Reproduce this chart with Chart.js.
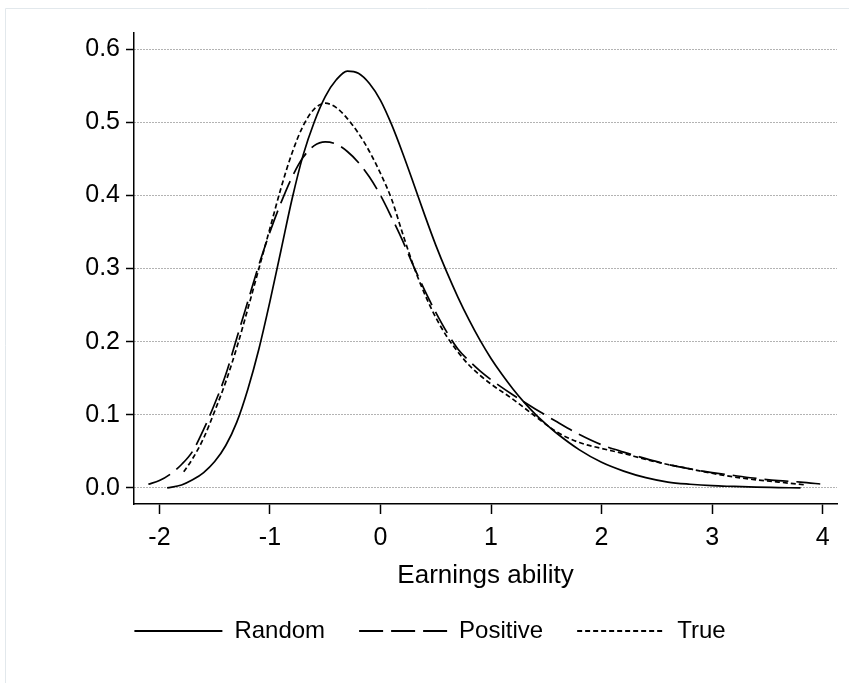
<!DOCTYPE html>
<html><head><meta charset="utf-8">
<script src="https://cdn.jsdelivr.net/npm/chart.js@4/dist/chart.umd.min.js"></script>
<style>html,body{margin:0;padding:0;background:#fff}#wrap{position:relative;width:849px;height:683px}</style>
</head><body><div id="wrap"><canvas id="c" width="849" height="683"></canvas></div>
<script>
const xTicks=[-2,-1,0,1,2,3,4];
const yTicks=[0,0.1,0.2,0.3,0.4,0.5,0.6];
const xTitle='Earnings ability';
const seriesNames=['Random','Positive','True'];

const randomX=[-1.93,-1.8,-1.7,-1.6,-1.5,-1.4,-1.3,-1.2,-1.1,-1.0,-0.9,-0.8,-0.7,-0.6,-0.5,-0.4,-0.3,-0.2,-0.1,0,0.1,0.2,0.3,0.4,0.5,0.6,0.7,0.8,0.9,1.0,1.1,1.2,1.3,1.4,1.5,1.6,1.8,2.0,2.2,2.4,2.6,2.8,3.0,3.2,3.4,3.6,3.8];
const randomY=[0.0,0.004,0.011,0.021,0.036,0.058,0.09,0.135,0.19,0.255,0.325,0.395,0.455,0.5,0.535,0.558,0.57,0.567,0.553,0.53,0.497,0.458,0.416,0.373,0.332,0.295,0.261,0.23,0.202,0.177,0.155,0.135,0.117,0.101,0.087,0.074,0.052,0.035,0.023,0.014,0.008,0.005,0.003,0.002,0.001,0.0005,0.0];

const positiveX=[-2.1,-2.0,-1.9,-1.8,-1.7,-1.6,-1.5,-1.4,-1.3,-1.2,-1.1,-1.0,-0.9,-0.8,-0.7,-0.6,-0.5,-0.4,-0.3,-0.2,-0.1,0,0.1,0.2,0.3,0.4,0.5,0.6,0.7,0.8,0.9,1.0,1.2,1.4,1.6,1.8,2.0,2.2,2.4,2.6,2.8,3.0,3.2,3.4,3.6,3.8,4.0];
const positiveY=[0.005,0.01,0.019,0.032,0.05,0.08,0.115,0.155,0.205,0.255,0.305,0.35,0.39,0.425,0.452,0.468,0.473,0.47,0.46,0.445,0.425,0.4,0.37,0.338,0.303,0.27,0.24,0.213,0.19,0.174,0.16,0.148,0.127,0.108,0.09,0.073,0.059,0.049,0.04,0.032,0.026,0.021,0.017,0.013,0.01,0.008,0.005];

const trueX=[-1.78,-1.7,-1.6,-1.5,-1.4,-1.3,-1.2,-1.1,-1.0,-0.9,-0.8,-0.7,-0.6,-0.5,-0.4,-0.3,-0.2,-0.1,0,0.1,0.2,0.3,0.4,0.5,0.6,0.7,0.8,0.9,1.0,1.2,1.4,1.6,1.8,2.0,2.2,2.4,2.6,2.8,3.0,3.2,3.4,3.6,3.85];
const trueY=[0.022,0.04,0.068,0.105,0.145,0.192,0.245,0.3,0.355,0.41,0.458,0.495,0.518,0.526,0.52,0.505,0.485,0.46,0.43,0.395,0.348,0.303,0.265,0.233,0.207,0.186,0.168,0.154,0.142,0.121,0.098,0.076,0.062,0.054,0.047,0.039,0.032,0.026,0.02,0.015,0.011,0.008,0.004];

const pts=(xs,ys)=>xs.map((x,i)=>({x:x,y:ys[i]}));
const FAM='"Liberation Sans", Arial, Helvetica, sans-serif';

const framePlugin={id:'frame',beforeDraw(chart){const c=chart.ctx;c.save();c.strokeStyle='#e2e8ec';c.lineWidth=1;c.beginPath();c.moveTo(5.5,683);c.lineTo(5.5,8.5);c.lineTo(849,8.5);c.stroke();c.restore();}};

const mk=(label,data,dash)=>({label:label,data:data,borderColor:'#000',backgroundColor:'#000',borderWidth:1.7,borderDash:dash,pointRadius:0,pointHoverRadius:0,fill:false,tension:0.4,cubicInterpolationMode:'monotone'});

new Chart(document.getElementById('c'),{
  type:'line',
  data:{datasets:[
    mk(seriesNames[0],pts(randomX,randomY),[]),
    mk(seriesNames[1],pts(positiveX,positiveY),[24,8]),
    mk(seriesNames[2],pts(trueX,trueY),[5,3])
  ]},
  plugins:[framePlugin],
  options:{
    responsive:false,animation:false,devicePixelRatio:1,
    layout:{padding:{left:23,right:12,top:33,bottom:30}},
    plugins:{
      tooltip:{enabled:false},
      legend:{position:'bottom',labels:{usePointStyle:true,pointStyle:'line',pointStyleWidth:88,color:'#000',font:{family:FAM,size:24},padding:34,
        generateLabels:chart=>Chart.defaults.plugins.legend.labels.generateLabels(chart).map((it,i)=>Object.assign(it,{lineDash:chart.data.datasets[i].borderDash,lineWidth:2,strokeStyle:'#000'}))}}
    },
    scales:{
      x:{type:'linear',min:-2.23,max:4.13,
        afterBuildTicks:s=>{s.ticks=xTicks.map(v=>({value:v}));},
        afterFit:s=>{s.height=81;},
        grid:{drawOnChartArea:false,drawTicks:true,tickLength:10,tickColor:'#000',tickWidth:1.5},
        border:{display:true,color:'#000',width:1.5},
        ticks:{color:'#000',font:{family:FAM,size:25},padding:9,maxRotation:0,autoSkip:false,callback:v=>String(v)},
        title:{display:true,text:xTitle,color:'#000',font:{family:FAM,size:26,lineHeight:'18px'},padding:{top:0,bottom:0}}
      },
      y:{min:-0.022,max:0.622,
        afterBuildTicks:s=>{s.ticks=yTicks.map(v=>({value:v}));},
        afterFit:s=>{s.width=111;},
        grid:{color:'#666',lineWidth:1,drawTicks:true,tickLength:8,tickColor:'#000',tickWidth:1.5,tickBorderDash:[]},
        border:{display:true,color:'#000',width:1.5,dash:[1,2]},
        ticks:{color:'#000',font:{family:FAM,size:25},padding:6,callback:v=>Number(v).toFixed(1)}
      }
    }
  }
});
</script></body></html>
